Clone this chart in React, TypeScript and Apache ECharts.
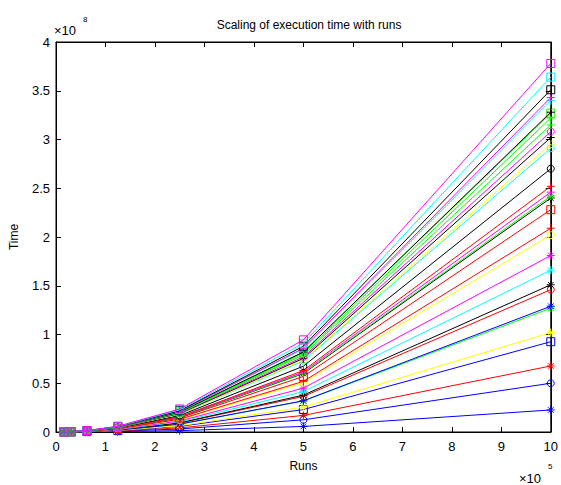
import React, { useEffect, useRef } from "react";
import * as echarts from "echarts";

// Runs (×10^5)
const runs = [0.15625, 0.3125, 0.625, 1.25, 2.5, 5, 10];

// Time (×10^8) per series
const colors = [
  "#0000ff", "#0000ff", "#ff0000", "#0000ff", "#ffff00", "#00ff00", "#0000ff", "#ff0000",
  "#000000", "#00ffff", "#ff00ff", "#ffff00", "#ff0000", "#ff0000", "#000000", "#00ff00",
  "#ff00ff", "#ff0000", "#000000", "#00ffff", "#ffff00", "#000000", "#ff00ff", "#00ff00",
  "#00ff00", "#00ff00", "#000000", "#00ffff", "#ff00ff", "#000000", "#00ffff", "#ff00ff",
];
const markers = [
  "star", "circle", "star", "square", "star", "star", "star", "circle",
  "star", "star", "star", "circle", "plus", "square", "star", "star",
  "plus", "plus", "circle", "circle", "circle", "plus", "circle", "plus",
  "plus", "square", "plus", "plus", "plus", "square", "square", "square",
];
const times: number[][] = [
  [0, 0, 0.001, 0.004, 0.014, 0.057, 0.226],
  [0.0001, 0.0005, 0.002, 0.008, 0.031, 0.125, 0.5],
  [0, 0.001, 0.003, 0.011, 0.042, 0.17, 0.677],
  [0, 0.001, 0.004, 0.014, 0.058, 0.23, 0.926],
  [0, 0.001, 0.004, 0.016, 0.064, 0.255, 1.02],
  [0, 0.001, 0.005, 0.02, 0.079, 0.318, 1.27],
  [0, 0.001, 0.005, 0.02, 0.081, 0.32, 1.29],
  [0, 0.001, 0.006, 0.023, 0.091, 0.365, 1.46],
  [0, 0.001, 0.006, 0.024, 0.094, 0.378, 1.51],
  [0, 0.002, 0.006, 0.026, 0.104, 0.415, 1.66],
  [0, 0.002, 0.007, 0.028, 0.113, 0.45, 1.81],
  [0, 0.002, 0.008, 0.032, 0.126, 0.505, 2.02],
  [0, 0.002, 0.008, 0.033, 0.131, 0.52, 2.09],
  [0, 0.002, 0.009, 0.036, 0.143, 0.57, 2.28],
  [0, 0.002, 0.009, 0.038, 0.15, 0.6, 2.4],
  [0, 0.002, 0.009, 0.038, 0.151, 0.605, 2.42],
  [0, 0.002, 0.01, 0.038, 0.154, 0.615, 2.46],
  [0, 0.002, 0.01, 0.039, 0.158, 0.63, 2.52],
  [0, 0.003, 0.011, 0.042, 0.169, 0.675, 2.7],
  [0.001, 0.003, 0.011, 0.045, 0.182, 0.73, 2.91],
  [0.001, 0.003, 0.012, 0.046, 0.184, 0.74, 2.95],
  [0.001, 0.003, 0.012, 0.047, 0.189, 0.755, 3.02],
  [0.001, 0.003, 0.012, 0.048, 0.193, 0.77, 3.08],
  [0.001, 0.003, 0.012, 0.049, 0.197, 0.79, 3.15],
  [0.001, 0.003, 0.013, 0.05, 0.201, 0.805, 3.22],
  [0.001, 0.003, 0.013, 0.051, 0.204, 0.82, 3.27],
  [0.001, 0.003, 0.013, 0.051, 0.205, 0.82, 3.28],
  [0.001, 0.003, 0.013, 0.053, 0.213, 0.85, 3.4],
  [0.001, 0.003, 0.013, 0.054, 0.214, 0.86, 3.43],
  [0.001, 0.004, 0.014, 0.055, 0.219, 0.88, 3.51],
  [0.001, 0.004, 0.014, 0.057, 0.228, 0.91, 3.64],
  [0.001, 0.004, 0.015, 0.059, 0.236, 0.945, 3.78],
];

const xTicks = [0, 1, 2, 3, 4, 5, 6, 7, 8, 9, 10];
const yTicks = [0, 0.5, 1, 1.5, 2, 2.5, 3, 3.5, 4];

const symbolFor = (m: string) => {
  if (m === "star") return "path://M5,0L5,10M0,5L10,5M1.5,1.5L8.5,8.5M8.5,1.5L1.5,8.5";
  if (m === "plus") return "path://M5,0L5,10M0,5L10,5";
  if (m === "square") return "rect";
  return "circle";
};

export default function App() {
  const ref = useRef<HTMLDivElement>(null);
  useEffect(() => {
    if (!ref.current) return;
    const chart = echarts.init(ref.current, null, { renderer: "svg" });
    const font = "Liberation Sans";
    const series = times.map((vals, i) => ({
      type: "line",
      xAxisIndex: 0,
      yAxisIndex: 0,
      data: vals.map((v, j) => [runs[j], v]),
      symbol: symbolFor(markers[i]),
      symbolSize: markers[i] === "circle" ? 7 : 8,
      showSymbol: true,
      lineStyle: { color: colors[i], width: 1 },
      itemStyle: { color: "transparent", borderColor: colors[i], borderWidth: 1 },
      emphasis: { disabled: true },
      silent: true,
      z: 2 + i,
    }));
    const axisLabelStyle = { color: "#000", fontFamily: font, fontSize: 13 };
    chart.setOption({
      animation: false,
      backgroundColor: "#fff",
      title: {
        text: "Scaling of execution time with runs",
        left: 304,
        textAlign: "center",
        top: 14,
        textStyle: { fontFamily: font, fontSize: 12, fontWeight: "normal", color: "#000" },
      },
      grid: {
        left: 55,
        right: 8,
        top: 42,
        bottom: 53,
        show: true,
        borderColor: "#000",
        borderWidth: 1,
        backgroundColor: "#fff",
      },
      xAxis: [
        {
          type: "value",
          min: 0,
          max: 10,
          interval: 1,
          position: "bottom",
          axisLine: { show: true, onZero: false, lineStyle: { color: "#000" } },
          axisTick: { show: true, inside: true, length: 5, lineStyle: { color: "#000" } },
          axisLabel: { ...axisLabelStyle, margin: 8, formatter: (v: number) => String(xTicks.includes(v) ? v : "") },
          splitLine: { show: false },
          name: "Runs",
          nameLocation: "middle",
          nameGap: 28,
          nameTextStyle: { fontFamily: font, fontSize: 12, color: "#000" },
        },
        {
          type: "value",
          min: 0,
          max: 10,
          interval: 1,
          position: "top",
          axisLine: { show: true, onZero: false, lineStyle: { color: "#000" } },
          axisTick: { show: true, inside: true, length: 5, lineStyle: { color: "#000" } },
          axisLabel: { show: false },
          splitLine: { show: false },
        },
      ],
      yAxis: [
        {
          type: "value",
          min: 0,
          max: 4,
          interval: 0.5,
          position: "left",
          axisLine: { show: true, onZero: false, lineStyle: { color: "#000" } },
          axisTick: { show: true, inside: true, length: 5, lineStyle: { color: "#000" } },
          axisLabel: { ...axisLabelStyle, margin: 6, formatter: (v: number) => String(yTicks.includes(v) ? v : "") },
          splitLine: { show: false },
          name: "Time",
          nameLocation: "middle",
          nameGap: 36,
          nameRotate: 90,
          nameTextStyle: { fontFamily: font, fontSize: 12, color: "#000" },
        },
        {
          type: "value",
          min: 0,
          max: 4,
          interval: 0.5,
          position: "right",
          axisLine: { show: true, onZero: false, lineStyle: { color: "#000" } },
          axisTick: { show: true, inside: true, length: 5, lineStyle: { color: "#000" } },
          axisLabel: { show: false },
          splitLine: { show: false },
        },
      ],
      graphic: [
        { type: "text", left: 54, top: 24, style: { text: "×10", fontFamily: font, fontSize: 13, fill: "#000" } },
        { type: "text", left: 83, top: 15, style: { text: "8", fontFamily: font, fontSize: 8, fill: "#000" } },
        { type: "text", left: 519, top: 472, style: { text: "×10", fontFamily: font, fontSize: 13, fill: "#000" } },
        { type: "text", left: 548, top: 462, style: { text: "5", fontFamily: font, fontSize: 8, fill: "#000" } },
      ],
      series,
    });
    return () => chart.dispose();
  }, []);
  return (
    <div
      ref={ref}
      style={{ position: "fixed", left: 0, top: 0, width: 561, height: 485, background: "#fff" }}
    />
  );
}
